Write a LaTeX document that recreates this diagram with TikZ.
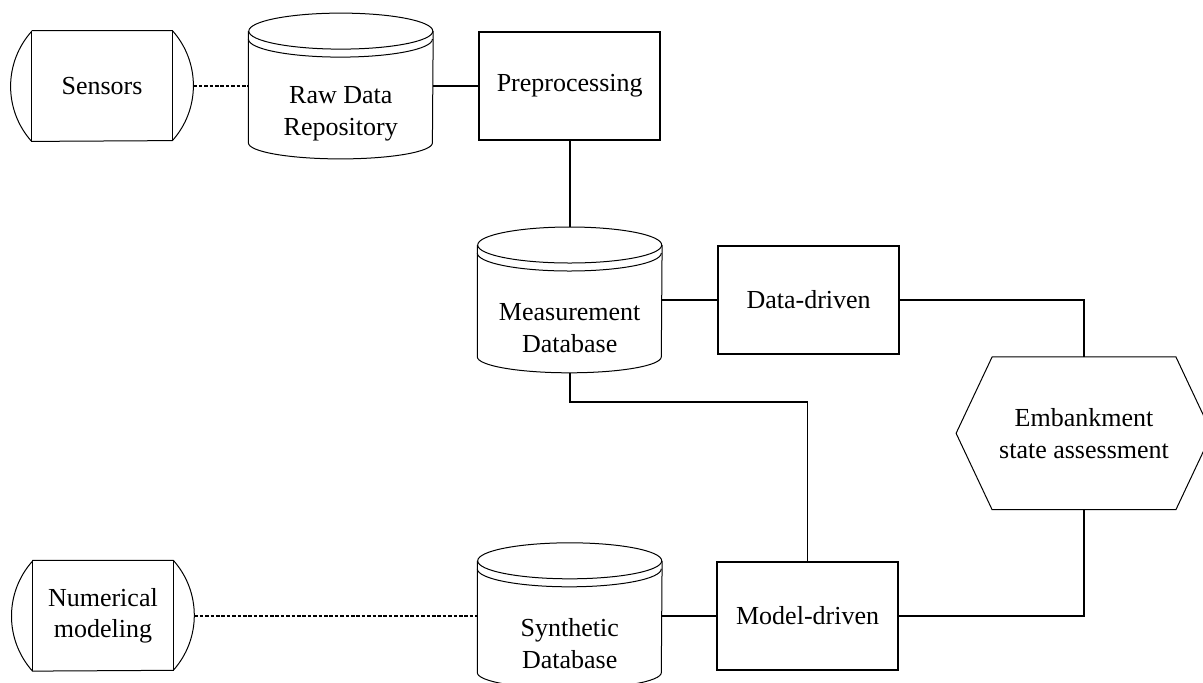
\documentclass[tikz,border=0pt]{standalone}
\usepackage{fontspec}
\setmainfont{Liberation Serif}
\usetikzlibrary{positioning}

\begin{document}
\begin{tikzpicture}[
  font=\fontsize{13}{15.8}\selectfont,
  proc/.style={draw, line width=1pt, minimum width=90.5pt, minimum height=54pt, align=center},
  store/.style={minimum width=91pt, minimum height=55pt, inner sep=0pt, align=center,
    append after command={\pgfextra{
      \draw[line width=0.5pt] ([xshift=10.5pt]\tikzlastnode.north west) -- ([xshift=-10.5pt]\tikzlastnode.north east)
        arc[start angle=41.8, end angle=-41.8, radius=41.26pt]
        -- ([xshift=10.5pt]\tikzlastnode.south west)
        arc[start angle=221.8, end angle=138.2, radius=41.26pt];
      \draw[line width=0.5pt] ([xshift=10.5pt]\tikzlastnode.north west) -- ([xshift=10.5pt]\tikzlastnode.south west)
        ([xshift=-10.5pt]\tikzlastnode.north east) -- ([xshift=-10.5pt]\tikzlastnode.south east);
    }}},
  db/.style={minimum width=92pt, minimum height=72.5pt, inner sep=0pt,
    append after command={\pgfextra{
      \draw[line width=0.5pt] ([yshift=-9pt]\tikzlastnode.north west) -- ([yshift=8pt]\tikzlastnode.south west)
        arc[start angle=180, end angle=360, x radius=46pt, y radius=8pt]
        -- ([yshift=-9pt]\tikzlastnode.north east);
      \draw[line width=0.5pt] ([yshift=-9pt]\tikzlastnode.north) ellipse[x radius=46pt, y radius=9pt];
      \draw[line width=0.5pt] ([yshift=-13pt]\tikzlastnode.north west)
        arc[start angle=180, end angle=360, x radius=46pt, y radius=9pt];
    }}},
  dbtext/.style={align=center, yshift=-14pt},
  hexa/.style={minimum width=127.5pt, minimum height=76pt, inner sep=0pt, align=center,
    append after command={\pgfextra{
      \draw[line width=0.5pt] ([xshift=18pt]\tikzlastnode.north west) -- ([xshift=-18pt]\tikzlastnode.north east)
        -- (\tikzlastnode.east) -- ([xshift=-18pt]\tikzlastnode.south east)
        -- ([xshift=18pt]\tikzlastnode.south west) -- (\tikzlastnode.west) -- cycle;
    }}},
  conn/.style={line width=0.8pt},
  dotconn/.style={line width=0.8pt, dash pattern=on 1.8pt off 0.9pt}
]
\useasboundingbox (-51pt,43pt) rectangle (550.5pt,-298pt);
\node[store] (sen) at (0,0) {Sensors};
\node[db, label={[dbtext]center:Raw Data\\Repository}, right=27.5pt of sen] (raw) {};
\node[proc, right=22.5pt of raw] (pre) {Preprocessing};
\node[db, label={[dbtext]center:Measurement\\Database}, below=43pt of pre] (meas) {};
\node[proc, right=27.5pt of meas] (dd) {Data-driven};
\node[hexa, below right=1pt and 28pt of dd] (hex) {Embankment\\state assessment};
\node[db, label={[dbtext]center:Synthetic\\Database}, below=85pt of meas] (syn) {};
\node[proc, right=27pt of syn] (mod) {Model-driven};
\node[store, left=141.5pt of syn] (num) {Numerical\\modeling};
\draw[dotconn] (sen.east) -- (raw.west);
\draw[conn] (raw.east) -- (pre.west);
\draw[conn] (pre.south) -- (meas.north);
\draw[conn] (meas.east) -- (dd.west);
\draw[conn] (dd.east) -| (hex.north);
\draw[conn] (meas.south) -- ++(0,-14.5pt) -| (mod.north);
\draw[conn] (syn.east) -- (mod.west);
\draw[conn] (mod.east) -| (hex.south);
\draw[dotconn] (num.east) -- (syn.west);
\end{tikzpicture}
\end{document}
